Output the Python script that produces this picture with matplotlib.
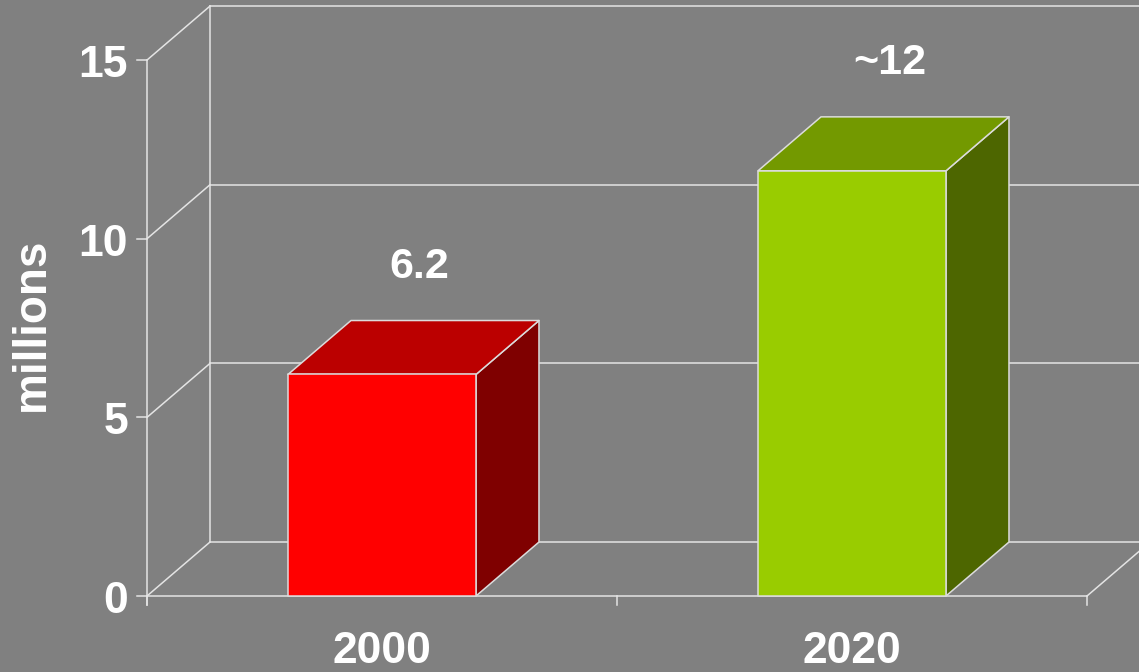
import matplotlib
matplotlib.use('Agg')
import matplotlib.pyplot as plt
from matplotlib.patches import Polygon

# ── data ──
years = ['2000', '2020']
values = [6.2, 11.9]
value_labels = ['6.2', '~12']
front_colors = ['#ff0000', '#99cc00']
top_colors = ['#bb0000', '#739900']
side_colors = ['#7f0000', '#4d6600']
yticks = [0, 5, 10, 15]

# ── pseudo 3d geometry (data units) ──
DX, DY = 0.134, 1.51      # depth offset of back wall
W = 0.4                   # bar width
BG = '#808080'
GRID = '#e4e4e4'
EDGE = '#dcdcdc'
TXT = dict(color='white', fontweight='bold')

plt.rcParams['font.family'] = ['Liberation Sans', 'DejaVu Sans']
fig = plt.figure(figsize=(11.39, 6.72), dpi=100, facecolor=BG)
ax = fig.add_axes([0, 0, 1, 1])
ax.set_facecolor(BG)
ax.set_xlim(-147 / 470, 992 / 470)
ax.set_ylim(-76 / 35.73, 596 / 35.73)
ax.axis('off')

n = len(years)
ymax = yticks[-1]
xr = ax.get_xlim()[1] + 0.2
lw = 1.1

# back wall + left wall
for t in yticks:
    ax.plot([DX, xr], [t + DY, t + DY], color=GRID, lw=lw, zorder=1)
    ax.plot([0, DX], [t, t + DY], color=GRID, lw=lw, zorder=1)
    ax.plot([-0.021, 0], [t, t], color=GRID, lw=lw, zorder=1)
ax.plot([DX, DX], [DY, ymax + DY], color=GRID, lw=lw, zorder=1)
ax.plot([0, 0], [-0.25, ymax], color=GRID, lw=lw, zorder=1)
# floor
ax.plot([0, n], [0, 0], color=GRID, lw=lw, zorder=1)
ax.plot([n, n + DX], [0, DY], color=GRID, lw=lw, zorder=1)
for k in range(n + 1):
    ax.plot([k, k], [0, -0.25], color=GRID, lw=lw, zorder=1)

# bars
for i, v in enumerate(values):
    x0 = i + 0.5 - W / 2
    x1 = x0 + W
    front = [(x0, 0), (x1, 0), (x1, v), (x0, v)]
    top = [(x0, v), (x1, v), (x1 + DX, v + DY), (x0 + DX, v + DY)]
    side = [(x1, 0), (x1 + DX, DY), (x1 + DX, v + DY), (x1, v)]
    for pts, c in [(side, side_colors[i]), (top, top_colors[i]), (front, front_colors[i])]:
        ax.add_patch(Polygon(pts, closed=True, facecolor=c, edgecolor=EDGE,
                             lw=1.1, joinstyle='round', zorder=3))
    ax.text(i + 0.5 + DX * 0.6, v + DY + 1.5, value_labels[i], ha='center',
            va='center', fontsize=31, zorder=4, **TXT)
    ax.text(i + 0.5, -1.55, years[i], ha='center', va='center', fontsize=32, **TXT)

for t in yticks:
    ax.text(-0.04, t - 0.15, str(t), ha='right', va='center', fontsize=32, **TXT)

ax.text(-0.245, 7.6, 'millions', rotation=90, ha='center', va='center',
        fontsize=33, **TXT)

fig.savefig('out.png', dpi=100, facecolor=BG)
